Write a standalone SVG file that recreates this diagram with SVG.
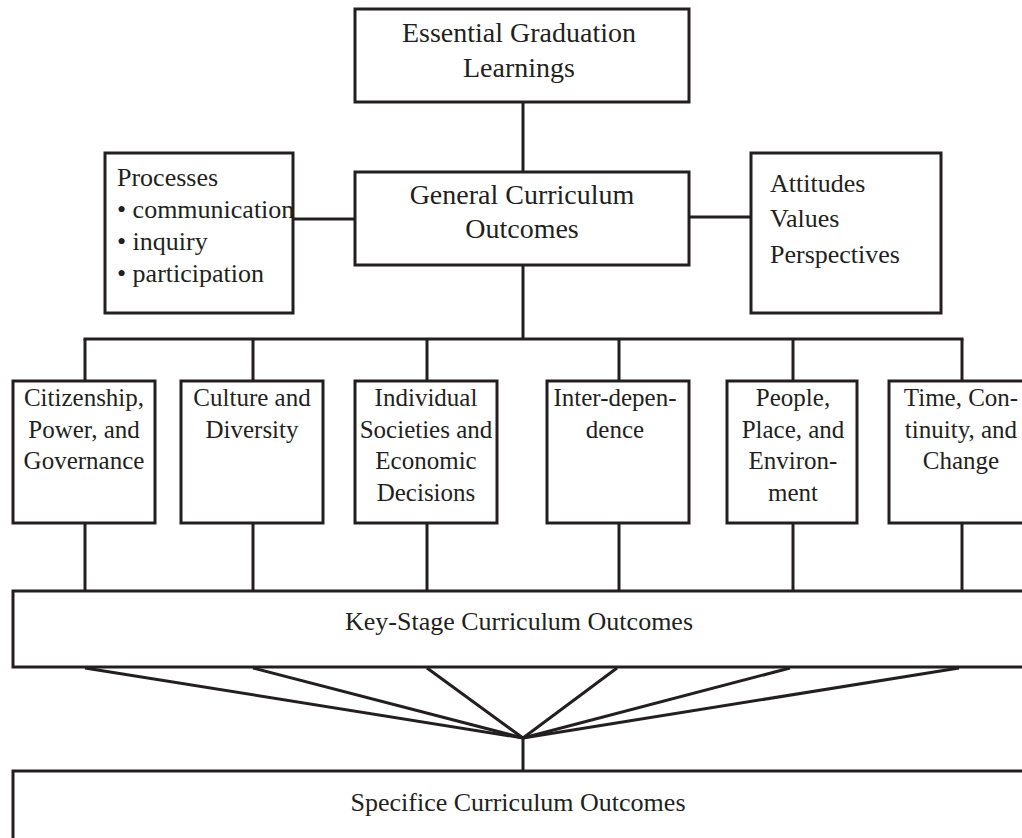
<svg xmlns="http://www.w3.org/2000/svg" width="1022" height="838" viewBox="0 0 1022 838">
<style>
.box{fill:#fff;stroke:#231f20;stroke-width:3}
.ln{stroke:#231f20;stroke-width:3;fill:none}
text{font-family:"Liberation Serif","Times New Roman",serif;fill:#231f20}
.t28{font-size:28px}
.t26{font-size:26px}
.t25{font-size:25px}
.c{text-anchor:middle}
</style>
<rect width="1022" height="838" fill="#fff"/>
<g id="connectors">
<line class="ln" x1="523" y1="102" x2="523" y2="172"/>
<line class="ln" x1="293" y1="219" x2="355" y2="219"/>
<line class="ln" x1="689" y1="217" x2="751" y2="217"/>
<line class="ln" x1="523" y1="265" x2="523" y2="339"/>
<line class="ln" x1="83.5" y1="339" x2="963.5" y2="339"/>
<line class="ln" x1="85" y1="339" x2="85" y2="381"/>
<line class="ln" x1="253" y1="339" x2="253" y2="381"/>
<line class="ln" x1="427" y1="339" x2="427" y2="381"/>
<line class="ln" x1="619" y1="339" x2="619" y2="381"/>
<line class="ln" x1="793" y1="339" x2="793" y2="381"/>
<line class="ln" x1="962" y1="339" x2="962" y2="381"/>
<line class="ln" x1="85" y1="523" x2="85" y2="591"/>
<line class="ln" x1="253" y1="523" x2="253" y2="591"/>
<line class="ln" x1="427" y1="523" x2="427" y2="591"/>
<line class="ln" x1="619" y1="523" x2="619" y2="591"/>
<line class="ln" x1="793" y1="523" x2="793" y2="591"/>
<line class="ln" x1="962" y1="523" x2="962" y2="591"/>
<line class="ln" x1="85" y1="668" x2="523" y2="738"/>
<line class="ln" x1="253" y1="668" x2="523" y2="738"/>
<line class="ln" x1="427" y1="668" x2="523" y2="738"/>
<line class="ln" x1="617" y1="668" x2="523" y2="738"/>
<line class="ln" x1="790" y1="668" x2="523" y2="738"/>
<line class="ln" x1="959" y1="668" x2="523" y2="738"/>
<line class="ln" x1="523" y1="738" x2="523" y2="771"/>
</g>
<g id="egl">
<rect class="box" x="355" y="9" width="334" height="93"/>
<text class="t28 c" x="519" y="42">Essential Graduation</text>
<text class="t28 c" x="519" y="77">Learnings</text>
</g>
<g id="gco">
<rect class="box" x="355" y="172" width="334" height="93"/>
<text class="t28 c" x="522" y="204">General Curriculum</text>
<text class="t28 c" x="522" y="238">Outcomes</text>
</g>
<g id="processes">
<rect class="box" x="105" y="153" width="188" height="160"/>
<text class="t26" x="117" y="186">Processes</text>
<text class="t26" x="117" y="218">• communication</text>
<text class="t26" x="117" y="250">• inquiry</text>
<text class="t26" x="117" y="282">• participation</text>
</g>
<g id="attitudes">
<rect class="box" x="751" y="153" width="190" height="160"/>
<text class="t26" x="770" y="192">Attitudes</text>
<text class="t26" x="770" y="227">Values</text>
<text class="t26" x="770" y="263">Perspectives</text>
</g>
<g id="citizenship">
<rect class="box" x="13" y="381" width="142" height="142"/>
<text class="t25 c" x="84" y="406">Citizenship,</text>
<text class="t25 c" x="84" y="438">Power, and</text>
<text class="t25 c" x="84" y="469">Governance</text>
</g>
<g id="culture">
<rect class="box" x="181" y="381" width="142" height="142"/>
<text class="t25 c" x="252" y="406">Culture and</text>
<text class="t25 c" x="252" y="438">Diversity</text>
</g>
<g id="individual">
<rect class="box" x="355" y="381" width="142" height="142"/>
<text class="t25 c" x="426" y="406">Individual</text>
<text class="t25 c" x="426" y="438">Societies and</text>
<text class="t25 c" x="426" y="469">Economic</text>
<text class="t25 c" x="426" y="501">Decisions</text>
</g>
<g id="interdependence">
<rect class="box" x="547" y="381" width="142" height="142"/>
<text class="t25 c" x="615" y="406">Inter-depen-</text>
<text class="t25 c" x="615" y="438">dence</text>
</g>
<g id="people">
<rect class="box" x="727" y="381" width="130" height="142"/>
<text class="t25 c" x="793" y="406">People,</text>
<text class="t25 c" x="793" y="438">Place, and</text>
<text class="t25 c" x="793" y="469">Environ-</text>
<text class="t25 c" x="793" y="501">ment</text>
</g>
<g id="time">
<rect class="box" x="889" y="381" width="145" height="142"/>
<text class="t25 c" x="961" y="406">Time, Con-</text>
<text class="t25 c" x="961" y="438">tinuity, and</text>
<text class="t25 c" x="961" y="469">Change</text>
</g>
<g id="keystage">
<rect class="box" x="13" y="591" width="1020" height="76"/>
<text class="t26 c" x="519" y="630">Key-Stage Curriculum Outcomes</text>
</g>
<g id="specific">
<rect class="box" x="13" y="771" width="1020" height="80"/>
<text class="t26 c" x="518" y="811">Specifice Curriculum Outcomes</text>
</g>
</svg>
